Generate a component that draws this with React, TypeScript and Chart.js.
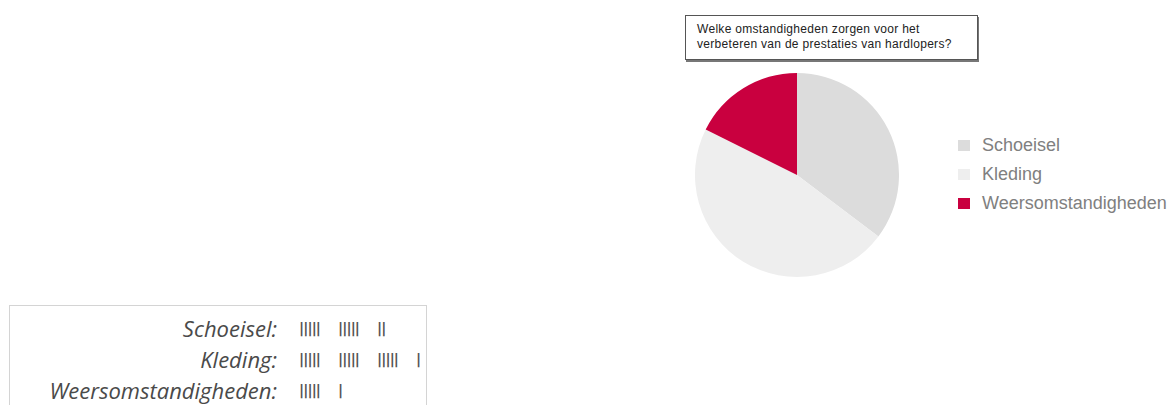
import React, { useEffect, useRef } from "react";
import { Chart, registerables } from "chart.js";

Chart.register(...registerables);

const categories = ["Schoeisel", "Kleding", "Weersomstandigheden"];
const counts = [12, 16, 6];
const colors = ["#dcdcdc", "#eeeeee", "#c9003f"];
const titleLines = [
  "Welke omstandigheden zorgen voor het",
  "verbeteren van de prestaties van hardlopers?",
];

function tallyGroups(n: number): string[] {
  const groups: string[] = [];
  let left = n;
  while (left > 0) {
    const k = Math.min(5, left);
    groups.push("|".repeat(k));
    left -= k;
  }
  return groups;
}

export default function App() {
  const canvasRef = useRef<HTMLCanvasElement | null>(null);

  useEffect(() => {
    if (!canvasRef.current) return;
    const chart = new Chart(canvasRef.current, {
      type: "pie",
      data: {
        labels: categories,
        datasets: [
          {
            data: counts,
            backgroundColor: colors,
            borderWidth: 0,
            hoverOffset: 0,
          },
        ],
      },
      options: {
        animation: false,
        responsive: true,
        maintainAspectRatio: false,
        layout: { padding: 0 },
        plugins: {
          legend: { display: false },
          tooltip: { enabled: false },
          title: { display: false },
        },
      },
    });
    return () => chart.destroy();
  }, []);

  return (
    <div
      style={{
        position: "absolute",
        left: 0,
        top: 0,
        width: 1176,
        height: 405,
        overflow: "hidden",
        background: "#fff",
      }}
    >
      {/* Title box */}
      <div
        style={{
          position: "absolute",
          left: 685,
          top: 15,
          width: 293,
          height: 45,
          border: "1px solid #555",
          boxShadow: "1px 2px 0 #777",
          background: "#fff",
          fontFamily: "Arial, 'Liberation Sans', sans-serif",
          fontSize: 12,
          letterSpacing: "0.3px",
          color: "#222",
          lineHeight: "15px",
          paddingLeft: 11,
          paddingTop: 6,
          boxSizing: "border-box",
        }}
      >
        {titleLines.map((t, i) => (
          <div key={i} style={{ whiteSpace: "nowrap" }}>
            {t}
          </div>
        ))}
      </div>

      {/* Pie */}
      <div style={{ position: "absolute", left: 695, top: 73, width: 204, height: 204 }}>
        <canvas ref={canvasRef} />
      </div>

      {/* Legend */}
      {categories.map((c, i) => (
        <div
          key={c}
          style={{
            position: "absolute",
            left: 958,
            top: 131 + i * 29,
            height: 28,
            display: "flex",
            alignItems: "center",
            fontFamily: "Arial, 'Liberation Sans', sans-serif",
            fontSize: 18,
            color: "#808080",
            whiteSpace: "nowrap",
          }}
        >
          <span
            style={{
              display: "inline-block",
              width: 12,
              height: 11,
              background: colors[i],
              marginRight: 12,
            }}
          />
          {c}
        </div>
      ))}

      {/* Tally box */}
      <div
        style={{
          position: "absolute",
          left: 9,
          top: 305,
          width: 418,
          height: 140,
          border: "1px solid #d4d4d4",
          boxSizing: "border-box",
        }}
      />
      {categories.map((c, i) => (
        <React.Fragment key={c}>
          <div
            style={{
              position: "absolute",
              left: 10,
              width: 267,
              top: 313 + i * 31,
              height: 31,
              lineHeight: "31px",
              textAlign: "right",
              fontFamily: "'Open Sans', sans-serif",
              fontStyle: "italic",
              fontSize: 22,
              color: "#4a4a4a",
              whiteSpace: "nowrap",
            }}
          >
            {c + ":"}
          </div>
          <div
            style={{
              position: "absolute",
              left: 299,
              top: 313 + i * 31,
              height: 31,
              lineHeight: "31px",
              fontFamily: "'DejaVu Sans', sans-serif",
              fontWeight: "bold",
              fontSize: 14,
              color: "#555",
              whiteSpace: "nowrap",
            }}
          >
            {tallyGroups(counts[i]).map((g, j) => (
              <span
                key={j}
                style={{ display: "inline-block", width: 39, letterSpacing: "-0.9px" }}
              >
                {g}
              </span>
            ))}
          </div>
        </React.Fragment>
      ))}
    </div>
  );
}
